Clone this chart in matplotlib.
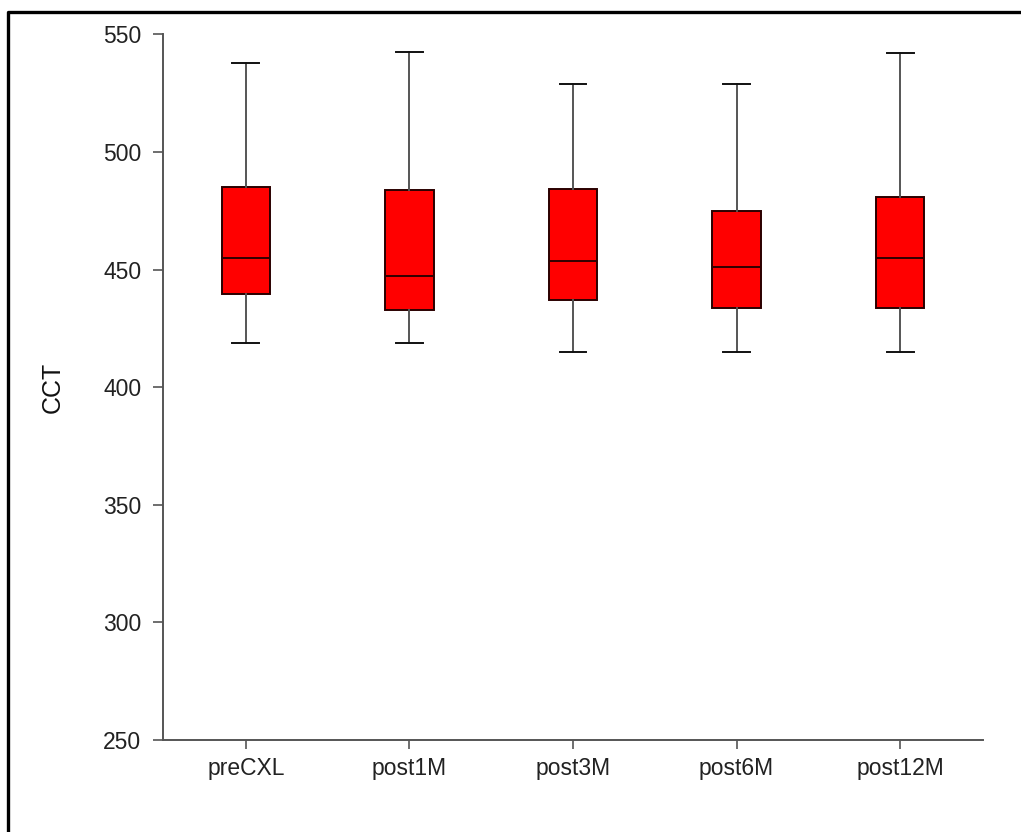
import matplotlib
matplotlib.use("Agg")
import matplotlib.pyplot as plt
from matplotlib.lines import Line2D

plt.rcParams['font.family'] = ['Liberation Sans', 'DejaVu Sans']

categories = ["preCXL", "post1M", "post3M", "post6M", "post12M"]
whisker_low = [419, 419, 415, 415, 415]
q1 = [439.5, 433, 437, 433.5, 433.5]
median = [455, 447.5, 453.5, 451, 455]
q3 = [485, 484, 484.5, 475, 481]
whisker_high = [538, 542.5, 529, 529, 542]
y_ticks = [250, 300, 350, 400, 450, 500, 550]

W, H = 1021, 832
fig = plt.figure(figsize=(W / 100, H / 100), dpi=100)
ax = fig.add_axes([163 / W, 1 - 740 / H, (983 - 163) / W, (740 - 34.5) / H])

stats = []
for i, c in enumerate(categories):
    stats.append(dict(label=c, whislo=whisker_low[i], q1=q1[i], med=median[i],
                      q3=q3[i], whishi=whisker_high[i], fliers=[]))

positions = list(range(1, len(categories) + 1))
ax.bxp(stats, positions=positions, widths=0.295, capwidths=0.165,
       patch_artist=True, showfliers=False,
       boxprops=dict(facecolor="#ff0000", edgecolor="#2a0000", linewidth=1.4),
       medianprops=dict(color="#300000", linewidth=1.4),
       whiskerprops=dict(color="#555555", linewidth=1.4),
       capprops=dict(color="#111111", linewidth=1.4))

ax.set_xlim(0.493, 5.507)
ax.set_ylim(250, 550)
ax.set_yticks(y_ticks)
ax.set_xticks(positions)
ax.set_xticklabels(categories)

for s in ["top", "right"]:
    ax.spines[s].set_visible(False)
for s in ["left", "bottom"]:
    ax.spines[s].set_color("#555555")
    ax.spines[s].set_linewidth(1.4)

ax.tick_params(axis="y", length=7.5, width=1.2, color="#555555", pad=8,
               labelsize=16.5, labelcolor="#222222")
ax.tick_params(axis="x", length=6.5, width=1.2, color="#555555", pad=6,
               labelsize=16.5, labelcolor="#222222")

ax.set_ylabel("CCT", fontsize=18, color="#111111")
ax.yaxis.set_label_coords(-0.12, 0.5)

# outer frame
fx = 8 / W
fy = 1 - 12 / H
fig.add_artist(Line2D([fx, fx, 1.2], [-0.2, fy, fy], color="black",
                      linewidth=2.4, transform=fig.transFigure, clip_on=False))

fig.savefig("out.png", dpi=100)
